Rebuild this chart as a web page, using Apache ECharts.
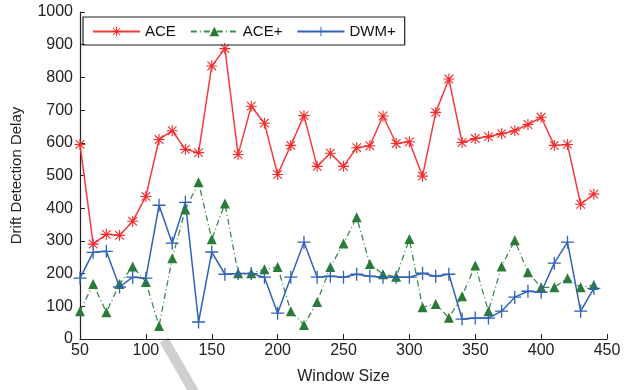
<!DOCTYPE html>
<html>
<head>
<meta charset="utf-8">
<script src="https://cdn.jsdelivr.net/npm/echarts@6/dist/echarts.min.js"></script>
<style>html,body{margin:0;padding:0;background:#fff;}#c{width:628px;height:390px;}</style>
</head>
<body>
<div id="c"></div>
<script>
const windowSizes = [50,60,70,80,90,100,110,120,130,140,150,160,170,180,190,200,210,220,230,240,250,260,270,280,290,300,310,320,330,340,350,360,370,380,390,400,410,420,430,440];
const ace = [595,290,320,317,360,436,610,637,580,570,835,888,564,712,660,503,592,683,528,568,528,585,591,682,598,603,498,693,795,601,613,619,628,637,656,678,592,595,412,443];
const acePlus = [85,168,82,168,222,174,40,247,396,479,305,414,201,201,213,220,85,43,113,220,292,372,229,198,190,306,97,107,65,131,225,85,222,302,204,158,158,186,158,165];
const dwmPlus = [186,265,268,159,189,186,409,293,418,52,266,198,200,200,189,79,189,296,189,192,189,198,192,189,189,189,201,192,198,61,64,64,85,128,146,143,232,296,85,155];
const yTicks = [0,100,200,300,400,500,600,700,800,900,1000];
const xTicks = [50,100,150,200,250,300,350,400,450];

const toPairs = arr => windowSizes.map((x, i) => [x, arr[i]]);
const asterisk = 'path://M0 9L20 9L20 11L0 11ZM9 0L11 0L11 20L9 20ZM1.5 2.9L2.9 1.5L18.5 17.1L17.1 18.5ZM17.1 1.5L18.5 2.9L2.9 18.5L1.5 17.1Z';
const plus = 'path://M9 0L11 0L11 20L9 20ZM0 9L20 9L20 11L0 11Z';
const font = 'Liberation Sans';

const chart = echarts.init(document.getElementById('c'), null, {renderer: 'canvas'});
chart.setOption({
  animation: false,
  backgroundColor: '#fff',
  grid: {left: 80, right: 21, top: 12, bottom: 50},
  legend: {
    left: 83, top: 17, width: 323, height: 30,
    padding: [7, 9, 6, 9],
    itemGap: 14, itemWidth: 47, itemHeight: 12,
    borderColor: '#222', borderWidth: 1.2,
    textStyle: {fontFamily: font, fontSize: 15, color: '#111'},
    data: ['ACE', 'ACE+', 'DWM+']
  },
  xAxis: {
    type: 'value', min: 50, max: 450, interval: 50,
    name: 'Window Size', nameLocation: 'middle', nameGap: 30,
    nameTextStyle: {fontFamily: font, fontSize: 16, color: '#222'},
    axisLine: {show: true, onZero: false, lineStyle: {color: '#222', width: 1.2}},
    axisTick: {show: true, inside: true, length: 5, lineStyle: {color: '#222'}},
    axisLabel: {fontFamily: font, fontSize: 16, color: '#222', margin: 4,
      formatter: v => xTicks.includes(v) ? String(v) : ''},
    splitLine: {show: false}
  },
  yAxis: {
    type: 'value', min: 0, max: 1000, interval: 100,
    name: 'Drift Detection Delay', nameLocation: 'middle', nameGap: 56,
    nameTextStyle: {fontFamily: font, fontSize: 15, color: '#222'},
    axisLine: {show: true, lineStyle: {color: '#222', width: 1.2}},
    axisTick: {show: true, inside: true, length: 5, lineStyle: {color: '#222'}},
    axisLabel: {fontFamily: font, fontSize: 16, color: '#222', margin: 7,
      formatter: v => yTicks.includes(v) ? String(v) : ''},
    splitLine: {show: false}
  },
  series: [
    {
      name: 'ACE', type: 'line', data: toPairs(ace),
      symbol: asterisk, symbolSize: 11,
      lineStyle: {color: '#f53a3a', width: 1.5},
      itemStyle: {color: '#f52a2a'}
    },
    {
      name: 'ACE+', type: 'line', data: toPairs(acePlus),
      symbol: 'triangle', symbolSize: 10,
      lineStyle: {color: '#3a8a48', width: 1.3, type: [6, 3, 1, 3]},
      itemStyle: {color: '#2a7a38'}
    },
    {
      name: 'DWM+', type: 'line', data: toPairs(dwmPlus),
      symbol: plus, symbolSize: 13,
      lineStyle: {color: '#2f62b8', width: 1.5},
      itemStyle: {color: '#2f62b8'}
    }
  ],
  graphic: [{
    type: 'line', silent: true, z: -1,
    shape: {x1: 164, y1: 340, x2: 194, y2: 392},
    style: {stroke: '#cfcfcf', lineWidth: 10}
  }]
});
</script>
</body>
</html>
